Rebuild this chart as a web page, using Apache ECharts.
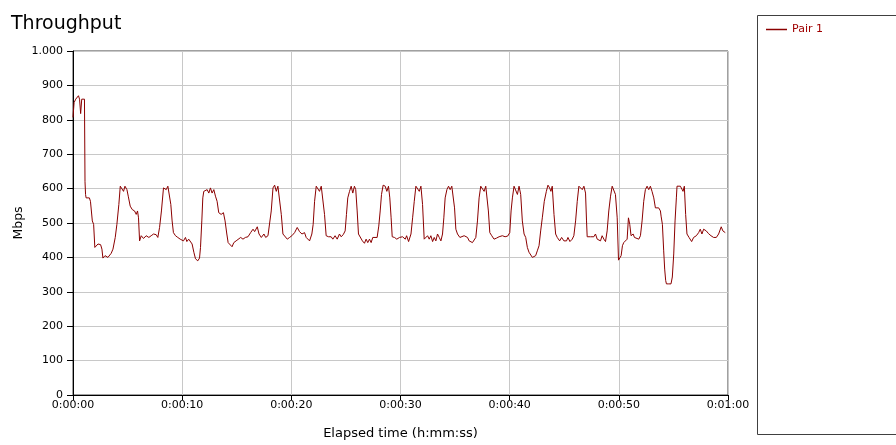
<!DOCTYPE html>
<html>
<head>
<meta charset="utf-8">
<script src="https://cdn.jsdelivr.net/npm/echarts@6/dist/echarts.min.js"></script>
<style>html,body{margin:0;padding:0;background:#fff}#c{width:896px;height:445px}</style>
</head>
<body>
<div id="c"></div>
<script>
const chartTitle = 'Throughput';
const seriesName = 'Pair 1';
const xAxisName = 'Elapsed time (h:mm:ss)';
const yAxisName = 'Mbps';
const xTicks = [0, 10, 20, 30, 40, 50, 60];
const yTicks = [0, 100, 200, 300, 400, 500, 600, 700, 800, 900, 1000];

const times = [
0.0,0.1,0.25,0.4,0.5,0.6,0.7,0.8,1.05,1.1,1.15,1.2,1.5,1.6,1.77,1.89,2.0,2.13,2.29,2.53,2.65,2.74,2.93,3.2,3.5,3.66,3.87,4.02,4.2,4.33,4.5,4.63,4.76,4.94,5.06,5.24,5.43,5.64,5.79,5.91,6.0,6.1,6.25,6.46,6.7,6.95,7.16,7.38,7.62,7.77,7.93,8.1,8.29,8.41,8.54,8.69,8.84,8.96,9.08,9.2,9.39,9.6,9.82,
10.0,10.12,10.3,10.43,10.6,10.73,10.91,11.07,11.22,11.43,11.59,11.68,11.8,11.89,11.98,12.13,12.29,12.44,12.59,12.74,12.9,13.05,13.2,13.35,13.57,13.78,13.93,14.09,14.21,14.39,14.57,14.73,14.94,15.11,15.36,15.57,15.79,16.03,16.27,16.49,16.64,16.88,17.04,17.25,17.49,17.65,17.86,18.01,18.16,18.32,18.47,18.62,18.77,18.93,19.08,19.23,19.38,19.63,19.84,
20.05,20.3,20.54,20.75,20.97,21.21,21.36,21.52,21.67,21.88,22.0,22.13,22.28,22.43,22.58,22.74,22.89,23.04,23.19,23.41,23.65,23.8,24.01,24.2,24.41,24.56,24.75,24.93,25.05,25.17,25.33,25.48,25.63,25.78,25.9,26.03,26.15,26.33,26.51,26.7,26.85,27.0,27.16,27.31,27.46,27.61,27.86,28.01,28.14,28.26,28.41,28.6,28.75,28.9,29.02,29.14,29.24,29.45,29.66,29.91,
30.19,30.44,30.56,30.74,30.96,31.11,31.26,31.41,31.57,31.72,31.87,32.02,32.17,32.33,32.48,32.63,32.78,32.94,33.09,33.24,33.39,33.55,33.7,33.85,33.97,34.09,34.25,34.4,34.55,34.7,34.83,34.95,35.07,35.22,35.44,35.62,35.83,35.98,36.14,36.29,36.44,36.59,36.75,36.9,37.05,37.2,37.35,37.51,37.66,37.81,37.96,38.05,38.18,38.36,38.57,38.79,39.03,39.33,39.58,39.82,
40.01,40.13,40.25,40.4,40.55,40.71,40.86,41.01,41.16,41.32,41.47,41.62,41.77,41.92,42.08,42.23,42.38,42.53,42.69,42.84,42.99,43.17,43.36,43.51,43.66,43.78,43.9,44.06,44.21,44.36,44.58,44.76,44.97,45.21,45.34,45.52,45.73,45.88,46.04,46.19,46.34,46.49,46.65,46.8,46.95,47.04,47.1,47.41,47.71,47.86,48.02,48.17,48.32,48.47,48.63,48.78,48.93,49.08,49.24,49.39,49.54,49.69,49.85,49.97,
50.09,50.21,50.33,50.45,50.61,50.76,50.88,51.0,51.12,51.22,51.31,51.43,51.61,51.83,51.98,52.13,52.28,52.43,52.59,52.74,52.89,53.04,53.2,53.35,53.5,53.65,53.81,53.87,53.99,54.11,54.2,54.29,54.36,54.57,54.78,54.9,55.03,55.15,55.27,55.33,55.64,55.79,55.88,56.0,56.12,56.24,56.43,56.67,56.85,57.1,57.31,57.46,57.61,57.77,58.01,58.22,58.44,58.68,58.93,59.14,59.29,59.38,59.53,59.66,59.75
];
const mbps = [
807,850,860,858,870,860,818,860,860,620,583,573,573,563,506,496,429,424,439,437,424,398,405,400,412,424,458,496,554,607,607,592,607,597,578,549,539,535,525,535,515,448,463,455,463,458,463,468,466,458,487,535,602,607,597,607,607,554,506,472,463,458,453,
458,448,458,446,453,448,439,415,396,390,398,429,506,573,592,587,597,587,602,587,597,578,563,530,525,530,506,468,443,439,431,443,448,450,458,453,458,460,472,482,475,489,468,458,468,458,463,458,535,602,610,592,607,602,525,468,463,453,458,
463,472,487,475,468,472,458,463,448,468,496,563,607,607,592,607,607,525,463,460,460,453,463,453,468,460,466,477,525,573,592,607,587,607,597,535,468,463,448,441,453,443,453,443,458,463,458,491,535,583,610,607,592,607,573,515,460,458,453,458,
460,453,463,446,468,515,563,607,607,592,607,554,453,458,463,453,463,446,458,448,468,458,448,468,515,573,597,607,597,607,607,544,482,468,458,453,463,468,458,448,453,443,448,458,506,573,607,607,592,607,602,535,472,463,453,456,460,463,460,462,
472,535,573,607,602,583,607,583,506,468,458,429,415,410,400,398,405,419,434,477,515,563,592,610,602,592,607,525,468,458,448,458,448,448,458,446,453,463,506,563,607,612,597,607,587,506,460,460,460,468,453,458,448,463,453,446,477,535,578,607,607,583,515,392,
395,405,434,443,439,453,515,496,463,458,468,458,453,453,463,506,563,597,607,597,607,592,573,544,539,544,535,520,496,419,366,333,323,323,323,343,410,506,573,607,607,607,592,607,525,468,458,446,458,463,472,482,468,482,477,469,463,458,458,468,472,489,477,482,472
];

const FONT = "'DejaVu Sans', Verdana, sans-serif";
const lineColor = '#8b0000';

function fmtTime(s) {
  const h = Math.floor(s / 3600);
  const m = Math.floor((s % 3600) / 60);
  const sec = Math.round(s % 60);
  return h + ':' + String(m).padStart(2, '0') + ':' + String(sec).padStart(2, '0');
}

const chart = echarts.init(document.getElementById('c'), null, {renderer: 'canvas'});
chart.setOption({
  animation: false,
  backgroundColor: '#ffffff',
  title: {
    text: chartTitle, left: 6, top: 10,
    textStyle: {fontFamily: FONT, fontSize: 19, fontWeight: 'normal', color: '#000'}
  },
  legend: {
    data: [seriesName], left: 761, top: 19, orient: 'vertical',
    icon: 'rect', itemWidth: 21, itemHeight: 1.5, itemGap: 6,
    textStyle: {fontFamily: FONT, fontSize: 11, color: '#a00000'}
  },
  graphic: [{
    type: 'rect', left: 755, top: 13,
    shape: {x: 0, y: 0, width: 160, height: 419},
    style: {fill: 'none', stroke: '#404040', lineWidth: 1}
  }],
  grid: {left: 73, right: 168, top: 51, bottom: 50, show: true, borderColor: '#404040', borderWidth: 1, backgroundColor: 'transparent'},
  xAxis: {
    type: 'value', min: xTicks[0], max: xTicks[xTicks.length - 1], interval: 10,
    name: xAxisName, nameLocation: 'middle', nameGap: 32,
    nameTextStyle: {fontFamily: FONT, fontSize: 13, color: '#000'},
    axisLine: {show: true, lineStyle: {color: '#000', width: 1}},
    axisTick: {show: true, length: 5, lineStyle: {color: '#000'}},
    axisLabel: {fontFamily: FONT, fontSize: 11, color: '#000', margin: 5, formatter: v => fmtTime(v)},
    splitLine: {show: true, lineStyle: {color: '#c8c8c8', width: 1}}
  },
  yAxis: {
    type: 'value', min: yTicks[0], max: yTicks[yTicks.length - 1], interval: 100,
    name: yAxisName, nameLocation: 'middle', nameGap: 48, nameRotate: 90,
    nameMoveOverlap: false,
    nameTextStyle: {fontFamily: FONT, fontSize: 12.5, color: '#000'},
    axisLine: {show: true, lineStyle: {color: '#000', width: 1}},
    axisTick: {show: true, length: 6, lineStyle: {color: '#000'}},
    axisLabel: {fontFamily: FONT, fontSize: 11, color: '#000', margin: 10,
      formatter: v => v >= 1000 ? (Math.floor(v / 1000) + '.' + String(v % 1000).padStart(3, '0')) : String(v)},
    splitLine: {show: true, lineStyle: {color: '#c8c8c8', width: 1}}
  },
  series: [{
    name: seriesName, type: 'line', symbol: 'none', showSymbol: false,
    lineStyle: {color: lineColor, width: 1},
    itemStyle: {color: lineColor},
    data: times.map((t, i) => [t, mbps[i]])
  }]
});
</script>
</body>
</html>
